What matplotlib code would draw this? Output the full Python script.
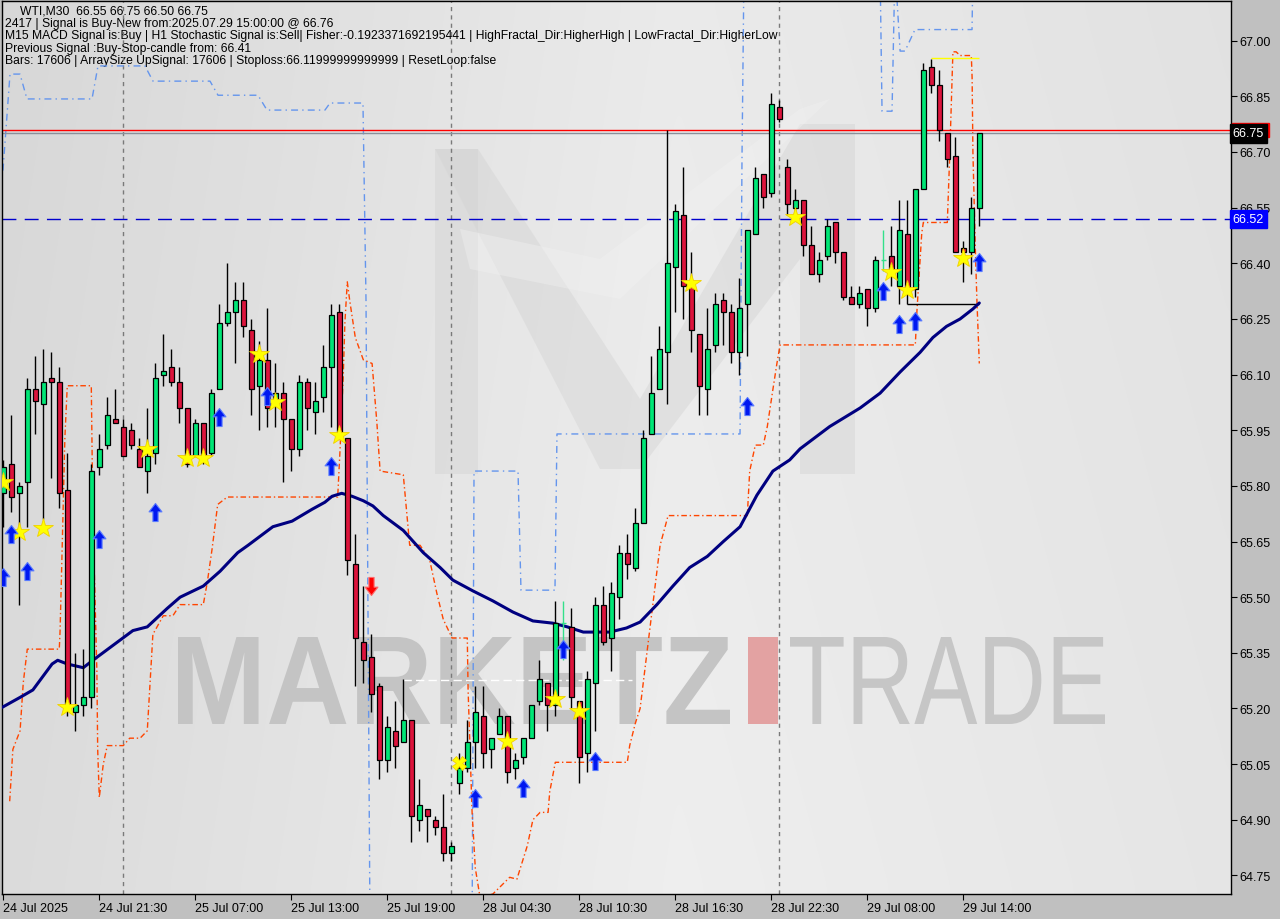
import numpy as np
import matplotlib
matplotlib.use("Agg")
import matplotlib.pyplot as plt
from matplotlib.path import Path
from matplotlib.patches import PathPatch, Polygon, Rectangle
from matplotlib.textpath import TextPath
from matplotlib.font_manager import FontProperties
import matplotlib.transforms as mtransforms

# candles (30 min bars, index 0 = 24 Jul 2025 15:30)
opens = [65.78, 65.86, 65.78, 65.81, 66.06, 66.02, 66.09, 66.08, 65.79, 65.19,
         65.21, 65.23, 65.85, 65.91, 65.98, 65.96, 65.95, 65.90, 65.84, 65.89,
         66.10, 66.12, 66.08, 66.01, 65.88, 65.97, 65.89, 66.06, 66.24, 66.27,
         66.30, 66.22, 66.07, 66.14, 66.03, 66.05, 65.98, 65.90, 66.08, 66.00,
         66.04, 66.12, 66.27, 65.93, 65.59, 65.38, 65.34, 65.26, 65.06, 65.14,
         65.11, 65.17, 64.90, 64.93, 64.90, 64.88, 64.81, 65.00, 65.04, 65.11,
         65.18, 65.09, 65.13, 65.18, 65.04, 65.07, 65.12, 65.22, 65.27, 65.21,
         65.43, 65.42, 65.22, 65.08, 65.27, 65.48, 65.39, 65.50, 65.62, 65.58,
         65.70, 65.94, 66.06, 66.16, 66.39, 66.53, 66.34, 66.21, 66.06, 66.18,
         66.30, 66.27, 66.16, 66.29, 66.48, 66.64, 66.59, 66.82, 66.66, 66.55,
         66.57, 66.45, 66.37, 66.42, 66.51, 66.43, 66.31, 66.29, 66.33, 66.28,
         66.41, 66.42, 66.34, 66.48, 66.33, 66.60, 66.93, 66.88, 66.75, 66.69,
         66.44, 66.43, 66.55]
highs = [65.87, 65.99, 65.81, 66.09, 66.15, 66.17, 66.16, 66.12, 65.89, 65.35,
         65.36, 65.86, 65.94, 66.04, 66.06, 65.98, 65.97, 65.93, 66.01, 66.13,
         66.21, 66.17, 66.12, 66.01, 65.98, 65.97, 66.06, 66.29, 66.40, 66.35,
         66.35, 66.25, 66.19, 66.28, 66.13, 66.08, 65.98, 66.10, 66.09, 66.08,
         66.18, 66.29, 66.29, 65.93, 65.67, 65.53, 65.40, 65.27, 65.18, 65.22,
         65.28, 65.17, 65.01, 64.93, 64.91, 64.97, 64.84, 65.08, 65.17, 65.26,
         65.26, 65.12, 65.20, 65.18, 65.08, 65.12, 65.21, 65.33, 65.27, 65.49,
         65.49, 65.47, 65.22, 65.30, 65.50, 65.53, 65.54, 65.64, 65.67, 65.74,
         65.95, 66.15, 66.23, 66.76, 66.56, 66.66, 66.43, 66.21, 66.28, 66.32,
         66.32, 66.29, 66.36, 66.49, 66.66, 66.64, 66.86, 66.84, 66.68, 66.60,
         66.57, 66.50, 66.43, 66.52, 66.51, 66.43, 66.34, 66.34, 66.33, 66.42,
         66.49, 66.50, 66.57, 66.57, 66.60, 66.94, 66.95, 66.92, 66.75, 66.74,
         66.46, 66.58, 66.75]
lows = [65.69, 65.73, 65.48, 65.69, 65.94, 65.71, 65.82, 65.74, 65.18, 65.14,
        65.18, 65.20, 65.83, 65.90, 65.97, 65.88, 65.90, 65.85, 65.78, 65.86,
        66.07, 66.07, 65.97, 65.85, 65.88, 65.86, 65.88, 66.06, 66.23, 66.13,
        66.20, 65.99, 65.95, 65.96, 65.96, 65.81, 65.84, 65.88, 65.95, 65.94,
        66.00, 65.96, 65.93, 65.56, 65.26, 65.27, 65.19, 65.01, 65.03, 65.04,
        65.11, 64.84, 64.87, 64.84, 64.86, 64.79, 64.79, 64.97, 65.03, 65.04,
        65.04, 65.04, 65.13, 65.00, 65.01, 65.05, 65.12, 65.21, 65.14, 65.18,
        65.33, 65.20, 65.00, 65.03, 65.14, 65.37, 65.30, 65.44, 65.55, 65.57,
        65.70, 65.94, 66.06, 66.02, 66.27, 66.25, 66.16, 65.99, 65.99, 66.16,
        66.18, 66.13, 66.10, 66.15, 66.48, 66.55, 66.58, 66.78, 66.53, 66.53,
        66.42, 66.37, 66.35, 66.41, 66.40, 66.30, 66.29, 66.28, 66.23, 66.27,
        66.38, 66.34, 66.29, 66.29, 66.31, 66.60, 66.86, 66.73, 66.66, 66.43,
        66.35, 66.37, 66.50]
closes = [65.85, 65.77, 65.80, 66.06, 66.03, 66.08, 66.08, 65.78, 65.20, 65.21,
          65.23, 65.84, 65.90, 65.99, 65.97, 65.88, 65.91, 65.85, 65.88, 66.09,
          66.11, 66.08, 66.01, 65.86, 65.97, 65.88, 66.05, 66.24, 66.27, 66.30,
          66.23, 66.06, 66.14, 66.01, 66.05, 65.98, 65.90, 66.08, 66.01, 66.03,
          66.12, 66.26, 65.94, 65.60, 65.39, 65.33, 65.24, 65.06, 65.15, 65.10,
          65.17, 64.91, 64.94, 64.91, 64.88, 64.81, 64.83, 65.04, 65.11, 65.19,
          65.08, 65.12, 65.18, 65.03, 65.06, 65.12, 65.21, 65.28, 65.21, 65.43,
          65.43, 65.23, 65.07, 65.28, 65.48, 65.38, 65.51, 65.62, 65.59, 65.70,
          65.93, 66.05, 66.17, 66.40, 66.54, 66.34, 66.22, 66.07, 66.17, 66.29,
          66.27, 66.16, 66.28, 66.49, 66.63, 66.58, 66.83, 66.79, 66.56, 66.57,
          66.45, 66.37, 66.41, 66.50, 66.43, 66.31, 66.29, 66.32, 66.28, 66.41,
          66.41, 66.37, 66.49, 66.33, 66.60, 66.92, 66.88, 66.76, 66.68, 66.43,
          66.43, 66.55, 66.75]

tick_bars = [0, 12, 24, 36, 48, 60, 72, 84, 96, 108, 120]
tick_labels = ["24 Jul 2025", "24 Jul 21:30", "25 Jul 07:00", "25 Jul 13:00",
               "25 Jul 19:00", "28 Jul 04:30", "28 Jul 10:30", "28 Jul 16:30",
               "28 Jul 22:30", "29 Jul 08:00", "29 Jul 14:00"]
price_ticks = [64.75, 64.90, 65.05, 65.20, 65.35, 65.50, 65.65, 65.80, 65.95,
               66.10, 66.25, 66.40, 66.55, 66.70, 66.85, 67.00]
day_sep_bars = [15, 56, 97]

# moving average
ma_bars = [-0.4, 2.1, 3.7, 6.1, 6.8, 8.0, 10.0, 11.2, 13.7, 16.2, 18.0, 20.5,
           22.1, 25.0, 27.1, 29.3, 30.6, 33.7, 36.1, 38.6, 40.2, 41.1, 42.3,
           43.6, 45.0, 46.2, 47.5, 50.0, 52.5, 54.6, 56.2, 58.7, 61.2, 63.7,
           66.2, 68.7, 70.5, 72.5, 75.8, 77.9, 79.6, 81.7, 83.7, 85.8, 88.0,
           90.0, 92.1, 94.2, 96.2, 98.3, 99.6, 103.3, 107.1, 109.6, 112.1,
           114.6, 116.2, 117.9, 119.6, 121.2, 122.0]
ma_vals = [65.20, 65.23, 65.25, 65.32, 65.33, 65.32, 65.31, 65.33, 65.37,
           65.41, 65.42, 65.47, 65.50, 65.53, 65.57, 65.62, 65.64, 65.69,
           65.705, 65.737, 65.756, 65.772, 65.78, 65.772, 65.76, 65.746,
           65.72, 65.68, 65.62, 65.58, 65.546, 65.517, 65.49, 65.46, 65.436,
           65.43, 65.42, 65.406, 65.406, 65.417, 65.433, 65.48, 65.53, 65.58,
           65.61, 65.65, 65.69, 65.775, 65.84, 65.87, 65.90, 65.96, 66.01,
           66.05, 66.107, 66.16, 66.20, 66.23, 66.25, 66.277, 66.293]

# lower band (orange dash-dot)
band_bars = [0.8, 1.2, 2.1, 2.5, 3.0, 7.0, 7.1, 7.3, 7.7, 8.0, 11.0, 11.2,
             11.7, 11.8, 12.0, 12.5, 13.0, 15.0, 15.8, 17.1, 18.0, 18.7, 20.0,
             21.2, 22.1, 25.0, 25.5, 26.1, 26.8, 28.0, 41.8, 42.1, 42.5, 42.7,
             43.0, 43.3, 44.0, 45.0, 46.1, 46.7, 47.1, 50.0, 50.8, 52.1, 53.3,
             54.2, 55.0, 56.1, 58.0, 58.1, 58.6, 59.0, 59.6, 61.2, 63.3, 64.2,
             65.5, 66.2, 67.1, 68.1, 68.3, 69.0, 78.0, 78.3, 79.0, 79.6, 82.1,
             83.1, 93.0, 93.3, 94.0, 95.0, 95.5, 96.2, 96.7, 97.1, 114.0, 114.2,
             114.8, 115.0, 118.0, 118.3, 118.7, 119.1, 119.6, 121.0, 121.1,
             121.2, 121.5, 121.7, 122.0]
band_vals = [64.95, 65.09, 65.14, 65.27, 65.36, 65.36, 65.41, 65.58, 65.93,
             66.07, 66.07, 65.72, 65.30, 65.09, 64.96, 65.05, 65.10, 65.10,
             65.12, 65.12, 65.14, 65.40, 65.45, 65.45, 65.48, 65.48, 65.54,
             65.63, 65.75, 65.77, 65.77, 65.90, 66.10, 66.24, 66.35, 66.30,
             66.20, 66.14, 66.13, 65.97, 65.84, 65.83, 65.64, 65.64, 65.60,
             65.51, 65.44, 65.39, 65.39, 65.25, 64.92, 64.77, 64.69, 64.70,
             64.745, 64.74, 64.83, 64.90, 64.92, 64.92, 64.975, 65.055, 65.055,
             65.10, 65.16, 65.20, 65.64, 65.72, 65.72, 65.84, 65.91, 65.91,
             65.96, 66.06, 66.13, 66.18, 66.18, 66.27, 66.48, 66.51, 66.51,
             66.69, 66.97, 66.97, 66.96, 66.96, 66.90, 66.70, 66.44, 66.30,
             66.13]

# upper band (light blue dash-dot)
upper_bars = [-0.04, 0.84, 2.09, 2.96, 11.09, 11.84, 17.71, 18.71, 25.84,
              26.84, 31.84, 32.96, 40.21, 40.84, 44.96, 45.34, 45.84, 58.6,
              58.84, 64.34, 64.71, 68.96, 69.21, 92.09, 92.34, 92.59, 109.59,
              109.84, 111.09, 111.46, 112.1, 112.71, 113.96, 121.09, 121.21]
upper_vals = [66.65, 66.91, 66.91, 66.843, 66.843, 66.932, 66.932, 66.891,
              66.891, 66.853, 66.853, 66.813, 66.813, 66.832, 66.832, 66.30,
              64.60, 64.60, 65.84, 65.84, 65.519, 65.519, 65.94, 65.94, 66.692,
              67.20, 67.20, 66.81, 66.81, 67.20, 66.972, 66.972, 67.03, 67.03,
              67.20]

# signal markers
star_bars = [0, 2, 5, 8, 18, 23, 25, 32, 34, 42, 63, 69, 72, 86, 99, 111, 113, 120]
star_prices = [65.81, 65.676, 65.687, 65.204, 65.899, 65.875, 65.875, 66.155,
               66.026, 65.937, 65.112, 65.225, 65.193, 66.347, 66.524, 66.376,
               66.328, 66.414]
cross_bars = [57]
cross_prices = [65.053]
up_bars = [0, 1, 3, 12, 19, 27, 33, 41, 59, 65, 70, 74, 93, 110, 112, 114, 122]
up_prices = [65.554, 65.670, 65.570, 65.657, 65.729, 65.985, 66.042, 65.853,
             64.958, 64.985, 65.360, 65.058, 66.015, 66.325, 66.236, 66.244,
             66.403]
down_bars = [46]
down_prices = [65.53]

# levels
signal_price = 66.76
bid_price = 66.75
entry_level = 66.52
stop_bars = [113, 122]
stop_level = 66.29
fractal_bars = [116, 122]
fractal_level = 66.953
range_bars = [50, 78.6]
range_level = 65.276

header = ["WTI,M30  66.55 66.75 66.50 66.75",
          "2417 | Signal is Buy-New from:2025.07.29 15:00:00 @ 66.76",
          "M15 MACD Signal is:Buy | H1 Stochastic Signal is:Sell| Fisher:-0.1923371692195441 | HighFractal_Dir:HigherHigh | LowFractal_Dir:HigherLow",
          "Previous Signal :Buy-Stop-candle from: 66.41",
          "Bars: 17606 | ArraySize UpSignal: 17606 | Stoploss:66.11999999999999 | ResetLoop:false"]

FONT = "Liberation Sans"
GREEN = "#00e676"
RED = "#dc143c"


def fit_text(axis, text, box, color, weight="normal"):
    # squeeze a text outline into a pixel box (x0, y0, x1, y1)
    tp = TextPath((0, 0), text, size=100, prop=FontProperties(family=FONT, weight=weight))
    bb = tp.get_extents()
    x0, y0, x1, y1 = box
    tr = (mtransforms.Affine2D().translate(-bb.x0, -bb.y0)
          .scale((x1 - x0) / bb.width, -(y1 - y0) / bb.height)
          .translate(x0, y1))
    axis.add_patch(PathPatch(tr.transform_path(tp), fc=color, ec="none", zorder=2))


def arrow_marker(up=True):
    verts = [(0, 0.7), (0.5, 0.05), (0.2, 0.05), (0.2, -0.7), (-0.2, -0.7),
             (-0.2, 0.05), (-0.5, 0.05), (0, 0.7)]
    if not up:
        verts = [(x, -y) for x, y in verts]
    codes = [Path.MOVETO] + [Path.LINETO] * 6 + [Path.CLOSEPOLY]
    return Path(verts, codes)


fig = plt.figure(figsize=(12.8, 9.2), dpi=100, facecolor="#c0c0c0")

# background + watermark layer in pixel units
bg = fig.add_axes([0, 0, 1, 1], zorder=0)
bg.set_xlim(0, 1280)
bg.set_ylim(920, 0)
bg.axis("off")
gx = np.linspace(0, 1, 200)
shade = np.interp(gx, [0, 0.55, 1], [0.845, 0.92, 0.885])
gy = np.linspace(0, 1, 60)[:, None]
grad = shade[None, :] + 0.015 * gy
bg.imshow(np.dstack([grad, grad, grad]), extent=[2, 1231, 895, 2], aspect="auto",
          zorder=1, interpolation="bicubic")

# big M logo, very faint
logo_col = "#d3d3d3"
bg.add_patch(Polygon([(435, 150), (478, 150), (478, 475), (435, 475)], fc=logo_col, ec="none", alpha=0.45, zorder=2))
bg.add_patch(Polygon([(435, 150), (478, 150), (640, 400), (640, 470), (600, 470)], fc=logo_col, ec="none", alpha=0.45, zorder=2))
bg.add_patch(Polygon([(640, 400), (800, 125), (855, 125), (855, 475), (800, 475), (800, 260), (640, 470)], fc=logo_col, ec="none", alpha=0.45, zorder=2))
bg.add_patch(Polygon([(460, 230), (600, 260), (800, 110), (830, 100), (620, 300), (470, 270)], fc="#f2f2f2", ec="none", alpha=0.4, zorder=2))

fit_text(bg, "MARKETZ", (178, 638, 730, 725), "#c4c4c4", weight="bold")
bg.add_patch(Polygon([(748, 638), (778, 638), (778, 725), (748, 725)], fc="#e3a2a2", ec="none", zorder=2))
fit_text(bg, "TRADE", (790, 638, 1105, 725), "#c6c6c6")

# price chart
ax = fig.add_axes([2 / 1280, 1 - 895 / 920, 1229 / 1280, 893 / 920], zorder=1)
ax.set_facecolor("none")
ax.set_xlim(-0.16, 153.46)
ax.set_ylim(64.700, 67.107)

for b in day_sep_bars:
    ax.axvline(b, color="#7a7a7a", lw=1, ls=(0, (3, 3)), zorder=1)

ax.plot(upper_bars, upper_vals, color="#6495ed", lw=1, ls=(0, (5, 3, 1, 3)), zorder=2)
ax.plot(band_bars, band_vals, color="#ff4500", lw=1, ls=(0, (4, 2, 1, 2)), zorder=2)
ax.hlines(range_level, range_bars[0], range_bars[1], color="white", lw=1, ls=(0, (6, 3)), zorder=2)

ax.axhline(bid_price, color="#8a8f9a", lw=1, zorder=2)
ax.axhline(signal_price, color="red", lw=1, zorder=2)
ax.axhline(entry_level, color="#0000cd", lw=1, ls=(0, (10, 6)), zorder=2)
ax.hlines(stop_level, stop_bars[0], stop_bars[1], color="black", lw=1, zorder=3)
ax.hlines(fractal_level, fractal_bars[0], fractal_bars[1], color="yellow", lw=1, zorder=3)

ax.plot(ma_bars, ma_vals, color="#000080", lw=2.2, zorder=4, solid_capstyle="round")

# candles
for i in range(len(opens)):
    o, h, l, c = opens[i], highs[i], lows[i], closes[i]
    if o == c:
        ax.vlines(i, l, h, color="#33e08a", lw=1, zorder=5)
        ax.hlines(o, i - 0.3, i + 0.3, color="#33e08a", lw=1, zorder=5)
        continue
    ax.vlines(i, l, h, color="black", lw=1, zorder=5)
    col = GREEN if c > o else RED
    ax.bar(i, abs(c - o), bottom=min(o, c), width=0.62, color=col,
           edgecolor="black", linewidth=0.9, zorder=6)

ax.plot(star_bars, star_prices, ls="none", marker="*", ms=15, mfc="#ffff00",
        mec="#f0d000", mew=0.6, zorder=7)
ax.plot(cross_bars, cross_prices, ls="none", marker="X", ms=10, mfc="#ffff00",
        mec="#f0d000", mew=0.6, zorder=7)
ax.plot(up_bars, up_prices, ls="none", marker=arrow_marker(True), ms=13,
        mfc="#0018f0", mec="#5a7cff", mew=0.8, zorder=7)
ax.plot(down_bars, down_prices, ls="none", marker=arrow_marker(False), ms=13,
        mfc="#ff0000", mec="#ff6a6a", mew=0.8, zorder=7)

# axes styling
for s in ax.spines.values():
    s.set_color("black")
    s.set_linewidth(1)
ax.yaxis.tick_right()
ax.set_yticks(price_ticks)
ax.set_yticklabels([f"{p:.2f}" for p in price_ticks], fontsize=9, family=FONT)
ax.tick_params(axis="y", direction="out", length=4, pad=2, colors="black")
ax.set_xticks(tick_bars)
ax.set_xticklabels(tick_labels, fontsize=9, family=FONT, ha="left")
ax.tick_params(axis="x", direction="out", length=4, pad=2, colors="black")

# price boxes on the right scale (signal box sits mostly under the bid box)
yb = mtransforms.blended_transform_factory(ax.transAxes, ax.transData)
ax.add_patch(Rectangle((1.0008, signal_price - 0.019), 0.0302, 0.038, transform=yb,
                       fc="red", ec="red", clip_on=False, zorder=8))
ax.text(1.0015, bid_price, "66.75", transform=yb, fontsize=9, family=FONT,
        color="white", va="center", ha="left", clip_on=False, zorder=9,
        bbox=dict(boxstyle="square,pad=0.25", fc="black", ec="black"))
ax.text(1.0015, entry_level, "66.52", transform=yb, fontsize=9, family=FONT,
        color="white", va="center", ha="left", clip_on=False, zorder=9,
        bbox=dict(boxstyle="square,pad=0.25", fc="#0000ff", ec="#0000ff"))

# header text
for k, line in enumerate(header):
    x = 20 if k == 0 else 5
    bg.text(x, 12 + 12.2 * k, line, fontsize=8.7, family=FONT, color="black",
            va="center", ha="left", zorder=10)

fig.savefig("out.png", dpi=100, facecolor=fig.get_facecolor())
